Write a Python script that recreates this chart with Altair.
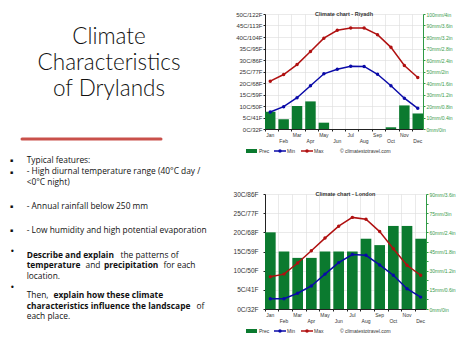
import json
import altair as alt
import pandas as pd

# ---------------- data ----------------
months = ["Jan", "Feb", "Mar", "Apr", "May", "Jun", "Jul", "Aug", "Sep", "Oct", "Nov", "Dec"]

riyadh_prec = [15, 8.5, 20, 24, 5.5, 0, 0, 0, 0, 1.5, 20.5, 13.5]
riyadh_min = [7.4, 9.7, 13.6, 18.8, 24.0, 26.0, 27.3, 27.2, 23.8, 18.8, 13.4, 9.0]
riyadh_max = [20.8, 23.7, 28.0, 33.7, 39.5, 42.9, 43.9, 43.9, 41.0, 35.5, 27.6, 22.4]

london_prec = [60, 45, 40, 40, 45, 45, 45, 55, 50, 65, 65, 55]
london_min = [2.7, 2.7, 4.1, 6.0, 9.1, 12.1, 14.2, 14.0, 11.5, 8.8, 5.3, 3.1]
london_max = [8.4, 9.1, 12.0, 15.2, 18.5, 21.6, 23.9, 23.4, 20.2, 15.7, 11.4, 8.8]

riyadh_temp_labels = ["0C/32F", "5C/41F", "10C/50F", "15C/59F", "20C/68F", "25C/77F",
                      "30C/86F", "35C/95F", "40C/104F", "45C/113F", "50C/122F"]
riyadh_prec_labels = ["0mm/0in", "10mm/0.4in", "20mm/0.8in", "30mm/1.2in", "40mm/1.6in",
                      "50mm/2in", "60mm/2.4in", "70mm/2.8in", "80mm/3.2in", "90mm/3.6in",
                      "100mm/4in"]
london_temp_labels = ["0C/32F", "5C/41F", "10C/50F", "15C/59F", "20C/68F", "25C/77F", "30C/86F"]
london_prec_labels = ["0mm/0in", "15mm/0.6in", "30mm/1.2in", "45mm/1.8in", "60mm/2.4in",
                      "75mm/3in", "90mm/3.6in"]

legend_labels = ["Prec", "Min", "Max", "© climatestotravel.com"]

# ---------------- styles ----------------
FONT = "Liberation Sans"
TFONT = "Lato"
BFONT = "Open Sans"
GREEN = "#0b7a2f"
GREEN_AX = "#2f9a45"
GREEN_TXT = "#3a9a4a"
BLUE = "#0a0aa8"
RED = "#b01010"
GRID = "#dcdcdc"
DARK = "#222222"
one = pd.DataFrame({"a": [1]})


def climate(title, prec, tmin, tmax, tdom, tlabels, pdom, pvals, pstep, plabels,
            w, h, left_font, left_pad):
    df = pd.DataFrame({"month": months, "prec": prec, "tmin": tmin, "tmax": tmax,
                       "row": [i % 2 for i in range(12)]})
    base = alt.Chart(df)
    x = alt.X("month:N", sort=months, title=None,
              scale=alt.Scale(paddingInner=0.22, paddingOuter=0),
              axis=alt.Axis(labels=False, ticks=True, tickSize=2, tickColor=DARK,
                            bandPosition=0, grid=True, gridColor=GRID, gridWidth=0.6,
                            domainColor=DARK, domainWidth=1))
    t_axis = alt.Axis(orient="left", values=list(range(tdom[0], tdom[1] + 1, 5)),
                      labelExpr=f"{json.dumps(tlabels)}[round(datum.value/5)]",
                      labelFont=FONT, labelFontSize=left_font, labelColor="#333",
                      labelPadding=left_pad, tickSize=2, tickColor=DARK,
                      domainColor=DARK, grid=True, gridColor=GRID, gridWidth=0.6,
                      title=None)
    p_axis = alt.Axis(orient="right", values=pvals,
                      labelExpr=f"(abs(datum.value/{pstep} - round(datum.value/{pstep})) < 0.01) ? "
                                f"{json.dumps(plabels)}[round(datum.value/{pstep})] : ''",
                      labelFont=FONT, labelFontSize=5, labelColor=GREEN_TXT,
                      labelPadding=1, tickSize=2, tickColor=GREEN_AX,
                      domainColor=GREEN_AX, grid=False, title=None)
    bars = base.mark_bar(color=GREEN).encode(
        x=x, y=alt.Y("prec:Q", scale=alt.Scale(domain=pdom, nice=False), axis=p_axis))
    tscale = alt.Scale(domain=tdom, nice=False)
    lmin = base.mark_line(color=BLUE, strokeWidth=1.5,
                          point=alt.OverlayMarkDef(color=BLUE, size=12, filled=True)).encode(
        x=x, y=alt.Y("tmin:Q", scale=tscale, axis=t_axis))
    lmax = base.mark_line(color=RED, strokeWidth=1.5,
                          point=alt.OverlayMarkDef(color=RED, size=12, filled=True)).encode(
        x=x, y=alt.Y("tmax:Q", scale=tscale, axis=t_axis))
    temps = alt.layer(lmin, lmax)

    m0 = base.transform_filter("datum.row == 0").mark_text(
        font=FONT, fontSize=5, color="#333", baseline="middle").encode(
        x=x, y=alt.value(h + 6), text="month:N")
    m1 = base.transform_filter("datum.row == 1").mark_text(
        font=FONT, fontSize=5, color="#333", baseline="middle").encode(
        x=x, y=alt.value(h + 12), text="month:N")
    ttl = alt.Chart(pd.DataFrame({"t": [title]})).mark_text(
        font=FONT, fontSize=5.5, fontWeight="bold", color="#333", baseline="middle").encode(
        text="t:N", x=alt.value(w / 2), y=alt.value(-0.5))

    ly = h + 22
    leg = [
        alt.Chart(one).mark_rect(color=GREEN).encode(
            x=alt.value(-19), x2=alt.value(-8), y=alt.value(ly - 2), y2=alt.value(ly + 2)),
        alt.Chart(one).mark_rule(color=BLUE, strokeWidth=1.5).encode(
            x=alt.value(9), x2=alt.value(21), y=alt.value(ly)),
        alt.Chart(one).mark_point(color=BLUE, filled=True, size=12, opacity=1).encode(
            x=alt.value(15), y=alt.value(ly)),
        alt.Chart(one).mark_rule(color=RED, strokeWidth=1.5).encode(
            x=alt.value(36), x2=alt.value(48), y=alt.value(ly)),
        alt.Chart(one).mark_point(color=RED, filled=True, size=12, opacity=1).encode(
            x=alt.value(42), y=alt.value(ly)),
    ]
    for lab, lx in zip(legend_labels, [-6, 22, 49, 75]):
        leg.append(alt.Chart(one).mark_text(
            text=lab, font=FONT, fontSize=5, color="#333", align="left", baseline="middle").encode(
            x=alt.value(lx), y=alt.value(ly)))

    return alt.layer(bars, temps, m0, m1, ttl, *leg).resolve_scale(
        y="independent").properties(width=w, height=h)


riyadh = climate("Climate chart - Riyadh", riyadh_prec, riyadh_min, riyadh_max,
                 [0, 50], riyadh_temp_labels, [0, 100], list(range(0, 101, 10)), 10,
                 riyadh_prec_labels, 158, 115, 6, 1)
london = climate("Climate chart - London", london_prec, london_min, london_max,
                 [0, 30], london_temp_labels, [0, 90], [i * 7.5 for i in range(13)], 15,
                 london_prec_labels, 161, 115, 6.5, 5)

# ---------------- slide text ----------------
OFF = 11  # top padding


def txt(s, x, y, size=8.4, weight="normal", align="left", font=BFONT, color="#111"):
    return alt.Chart(one).mark_text(
        text=s, font=font, fontSize=size, fontWeight=weight, align=align,
        baseline="middle", color=color).encode(x=alt.value(x), y=alt.value(y - OFF))


def ttxt(s, y):
    return alt.Chart(one).mark_text(
        text=s, font=TFONT, fontSize=22.5, fontWeight=300, align="center",
        baseline="alphabetic", color="#111").encode(x=alt.value(109), y=alt.value(y - OFF))


layers = [
    ttxt("Climate", 41.3), ttxt("Characteristics", 67.3), ttxt("of Drylands", 93.3),
    alt.Chart(one).mark_rule(color="#c9504a", strokeWidth=3, strokeCap="round").encode(
        x=alt.value(22), x2=alt.value(161), y=alt.value(136 - OFF)),
]
for by in [157.2, 169.0, 203.2, 226.7]:
    layers.append(txt("▪", 10, by, size=5, font="DejaVu Sans"))
for by in [249.3, 284.5]:
    layers.append(txt("•", 10, by, size=8, font="DejaVu Sans"))

segments = [
    ("Typical features:", 26.7, 157.2, "normal"),
    ("- High diurnal temperature range (40°C day /", 26.7, 168.3, "normal"),
    ("<0°C night)", 26.7, 178.6, "normal"),
    ("- Annual rainfall below 250 mm", 26.7, 203.2, "normal"),
    ("- Low humidity and high potential evaporation", 26.7, 226.7, "normal"),
    ("Describe and explain", 26.7, 251.5, "bold"),
    ("the patterns of", 120.5, 251.5, "normal"),
    ("temperature", 26.7, 262.0, "bold"),
    ("and", 85.5, 262.0, "normal"),
    ("precipitation", 104, 262.0, "bold"),
    ("for each", 163.5, 262.0, "normal"),
    ("location.", 26.7, 272.5, "normal"),
    ("Then,", 26.7, 292.3, "normal"),
    ("explain how these climate", 53.5, 292.3, "bold"),
    ("characteristics influence the landscape", 26.7, 302.8, "bold"),
    ("of", 196.5, 302.8, "normal"),
    ("each place.", 26.7, 313.3, "normal"),
]
for s, x, y, wt in segments:
    layers.append(txt(s, x, y, weight=wt))

panel = alt.layer(*layers).properties(width=222, height=320)

chart = alt.hconcat(panel, alt.vconcat(riyadh, london, spacing=37), spacing=11).properties(
    padding={"left": 0, "top": OFF, "right": 0, "bottom": 0}
).configure_view(stroke=None)

chart.save("out.html", embed_options={"renderer": "svg", "actions": False})
